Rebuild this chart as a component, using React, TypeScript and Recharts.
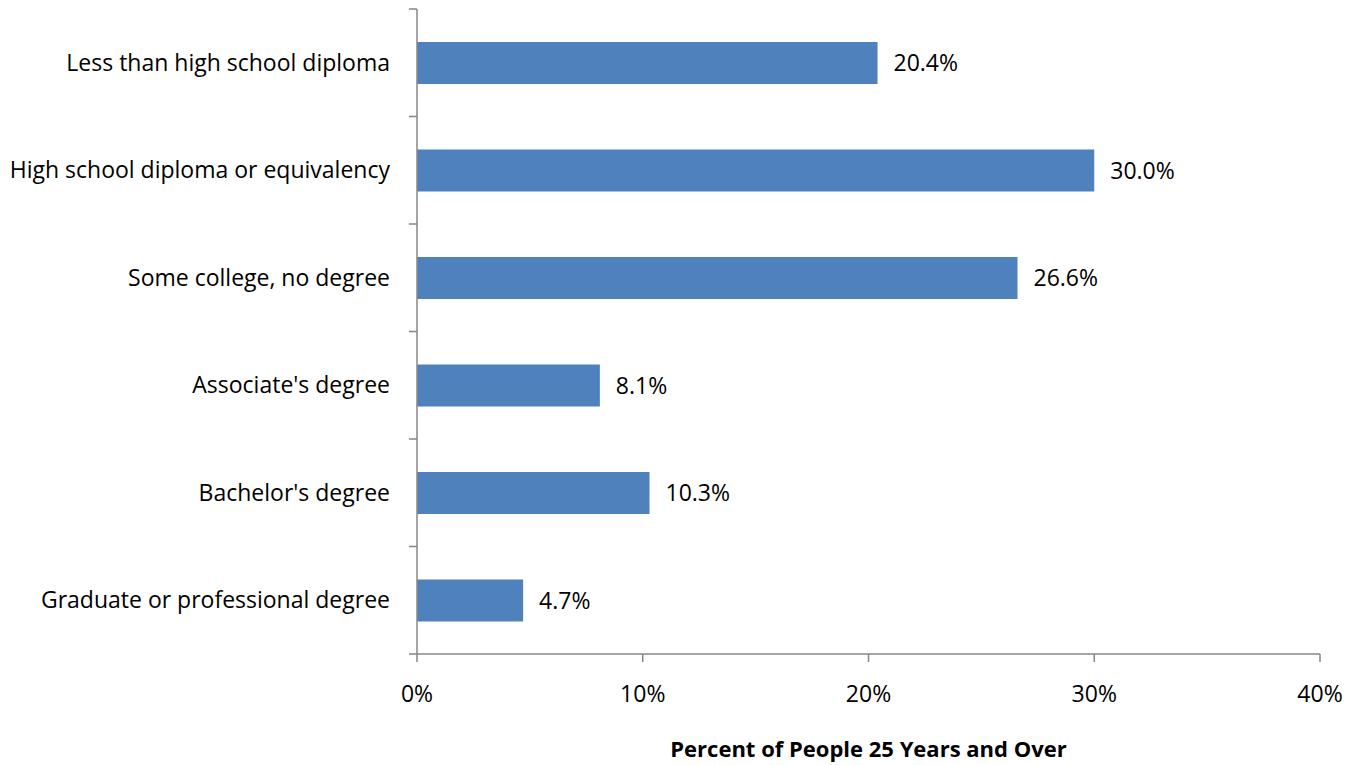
import { BarChart, Bar, XAxis, YAxis, LabelList } from "recharts";

const categories = [
  "Less than high school diploma",
  "High school diploma or equivalency",
  "Some college, no degree",
  "Associate's degree",
  "Bachelor's degree",
  "Graduate or professional degree",
];
const percents = [20.4, 30.0, 26.6, 8.1, 10.3, 4.7];
const xTicks = [0, 10, 20, 30, 40];

const data = categories.map((name, i) => ({ name, value: percents[i] }));

const AXIS = "#878787";
const FONT = "'Open Sans', sans-serif";
const TOP = 9;
const BOTTOM = 654;
const BAND = (BOTTOM - TOP) / categories.length;

function CategoryTick(props: any) {
  const { x, y, payload, index } = props;
  const top = y - BAND / 2;
  return (
    <g>
      <line x1={x} x2={x + 8} y1={top} y2={top} stroke={AXIS} strokeWidth={1.5} />
      {index === categories.length - 1 && (
        <line x1={x} x2={x + 8} y1={top + BAND} y2={top + BAND} stroke={AXIS} strokeWidth={1.5} />
      )}
      <text x={x - 19} y={y} dy={8} textAnchor="end" fontSize={23} fill="#000" fontFamily={FONT}>
        {payload.value}
      </text>
    </g>
  );
}

export default function App() {
  return (
    <div style={{ position: "absolute", left: 0, top: 0, background: "#fff" }}>
      <BarChart
        width={1356}
        height={765}
        data={data}
        layout="vertical"
        margin={{ top: TOP, right: 36, bottom: 0, left: 0 }}
      >
        <XAxis
          type="number"
          domain={[0, 40]}
          ticks={xTicks}
          tickFormatter={(v) => `${v}%`}
          height={111}
          stroke={AXIS}
          strokeWidth={1.5}
          tickSize={8}
          tickMargin={24}
          tick={{ fontSize: 23, fill: "#000", fontFamily: FONT }}
          label={{
            value: "Percent of People 25 Years and Over",
            position: "insideBottom",
            offset: 8,
            style: { fontSize: 22, fontWeight: 700, fill: "#000", fontFamily: FONT },
          }}
        />
        <YAxis
          type="category"
          dataKey="name"
          width={417}
          stroke={AXIS}
          strokeWidth={1.5}
          tickLine={false}
          tick={<CategoryTick />}
          interval={0}
        />
        <Bar dataKey="value" fill="#4F81BD" barSize={42} isAnimationActive={false}>
          <LabelList
            dataKey="value"
            position="right"
            offset={16}
            formatter={(v: any) => `${Number(v).toFixed(1)}%`}
            style={{ fontSize: 23, fill: "#000", fontFamily: FONT }}
          />
        </Bar>
      </BarChart>
    </div>
  );
}
